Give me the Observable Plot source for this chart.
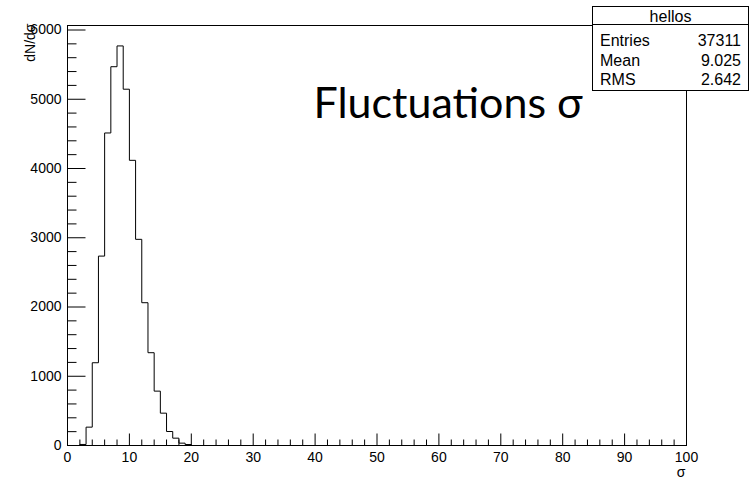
<!DOCTYPE html>
<html><head><meta charset="utf-8">
<script src="https://cdn.jsdelivr.net/npm/d3@7"></script>
<script src="https://cdn.jsdelivr.net/npm/@observablehq/plot@0.6"></script>
<style>
html,body{margin:0;padding:0;background:#fff;}
#wrap{position:relative;width:755px;height:480px;overflow:hidden;}
#wrap svg{display:block;}
#stats{position:absolute;left:0;top:0;}
</style></head><body><div id="wrap"></div>
<script>
// Histogram "hellos": bin edges (width 1) and counts
const binEdges = [0,1,2,3,4,5,6,7,8,9,10,11,12,13,14,15,16,17,18,19,20,21,22];
const counts   = [0,0,15,265,1195,2735,4513,5470,5770,5145,4118,2977,2062,1340,785,467,202,106,34,14,0,0];
const xMajor = [0,10,20,30,40,50,60,70,80,90,100];
const yMajor = [0,1000,2000,3000,4000,5000,6000];
const xMinor = d3.range(0, 100, 2).filter(d => d % 10 !== 0);
const yMinor = d3.range(0, 6001, 200).filter(d => d % 1000 !== 0);
const xDomain = [0, 100];
const yDomain = [0, 6065];
const xTitle = "σ";
const yTitle = "dN/dσ";
const bigTitle = "Fluctuations σ";
const histName = "hellos";
const statsLabels = ["Entries", "Mean", "RMS"];
const statsValues = ["37311", "9.025", "2.642"];

const points = counts.map((c, i) => ({x: binEdges[i], y: c}))
  .concat([{x: binEdges[counts.length], y: 0}]);

const tickShape = {draw(ctx, l) { ctx.moveTo(0, 0); ctx.lineTo(0, -l); }};
const tickOpts = {anchor: "start", shape: tickShape, stroke: "black", strokeWidth: 1, strokeLinecap: "butt"};

const plot = Plot.plot({
  width: 755, height: 480,
  marginLeft: 67, marginRight: 69, marginTop: 25, marginBottom: 35,
  style: {fontFamily: "'Liberation Sans', Arial, sans-serif", fontSize: "14px", background: "white", color: "black"},
  x: {domain: xDomain},
  y: {domain: yDomain},
  marks: [
    Plot.line(points, {x: "x", y: "y", curve: "step-after", stroke: "black", strokeWidth: 1}),
    Plot.vector(xMajor, {x: d => d, frameAnchor: "bottom", rotate: 0, length: 12, ...tickOpts}),
    Plot.vector(xMinor, {x: d => d, frameAnchor: "bottom", rotate: 0, length: 6, ...tickOpts}),
    Plot.vector(yMajor, {y: d => d, frameAnchor: "left", rotate: 90, length: 18, ...tickOpts}),
    Plot.vector(yMinor, {y: d => d, frameAnchor: "left", rotate: 90, length: 9, ...tickOpts}),
    Plot.frame({stroke: "black"}),
    Plot.axisX({ticks: xMajor, tickSize: 0, tickPadding: 7, tickFormat: "d", label: null}),
    Plot.axisY({ticks: yMajor, tickSize: 0, tickPadding: 6, tickFormat: "d", label: null}),
    Plot.text([yTitle], {text: d => d, frameAnchor: "top-left", dx: -37, dy: -2, rotate: -90, textAnchor: "end", lineAnchor: "middle"}),
    Plot.text([xTitle], {text: d => d, frameAnchor: "bottom-right", dx: -1, dy: 27, textAnchor: "end", lineAnchor: "middle"}),
    Plot.text([bigTitle], {text: d => d, frameAnchor: "top-left", dx: 246, dy: 92, textAnchor: "start", lineAnchor: "bottom", fontSize: 43, fontFamily: "Lato"})
  ]
});
const wrap = document.getElementById("wrap");
wrap.appendChild(plot);

// Stats box (ROOT style)
const s = d3.create("svg").attr("id", "stats").attr("width", 755).attr("height", 100)
  .style("font-family", "'Liberation Sans', Arial, sans-serif").style("font-size", "16px");
s.append("rect").attr("x", 592.5).attr("y", 6.5).attr("width", 156).attr("height", 84)
  .attr("fill", "white").attr("stroke", "black");
s.append("line").attr("x1", 592.5).attr("x2", 748.5).attr("y1", 24.5).attr("y2", 24.5).attr("stroke", "black");
s.append("text").attr("x", 670.5).attr("y", 22).attr("text-anchor", "middle").text(histName);
const rowY = [46, 65.5, 85];
statsLabels.forEach((lab, i) => {
  s.append("text").attr("x", 600).attr("y", rowY[i]).text(lab);
  s.append("text").attr("x", 741).attr("y", rowY[i]).attr("text-anchor", "end").text(statsValues[i]);
});
wrap.appendChild(s.node());
</script></body></html>
